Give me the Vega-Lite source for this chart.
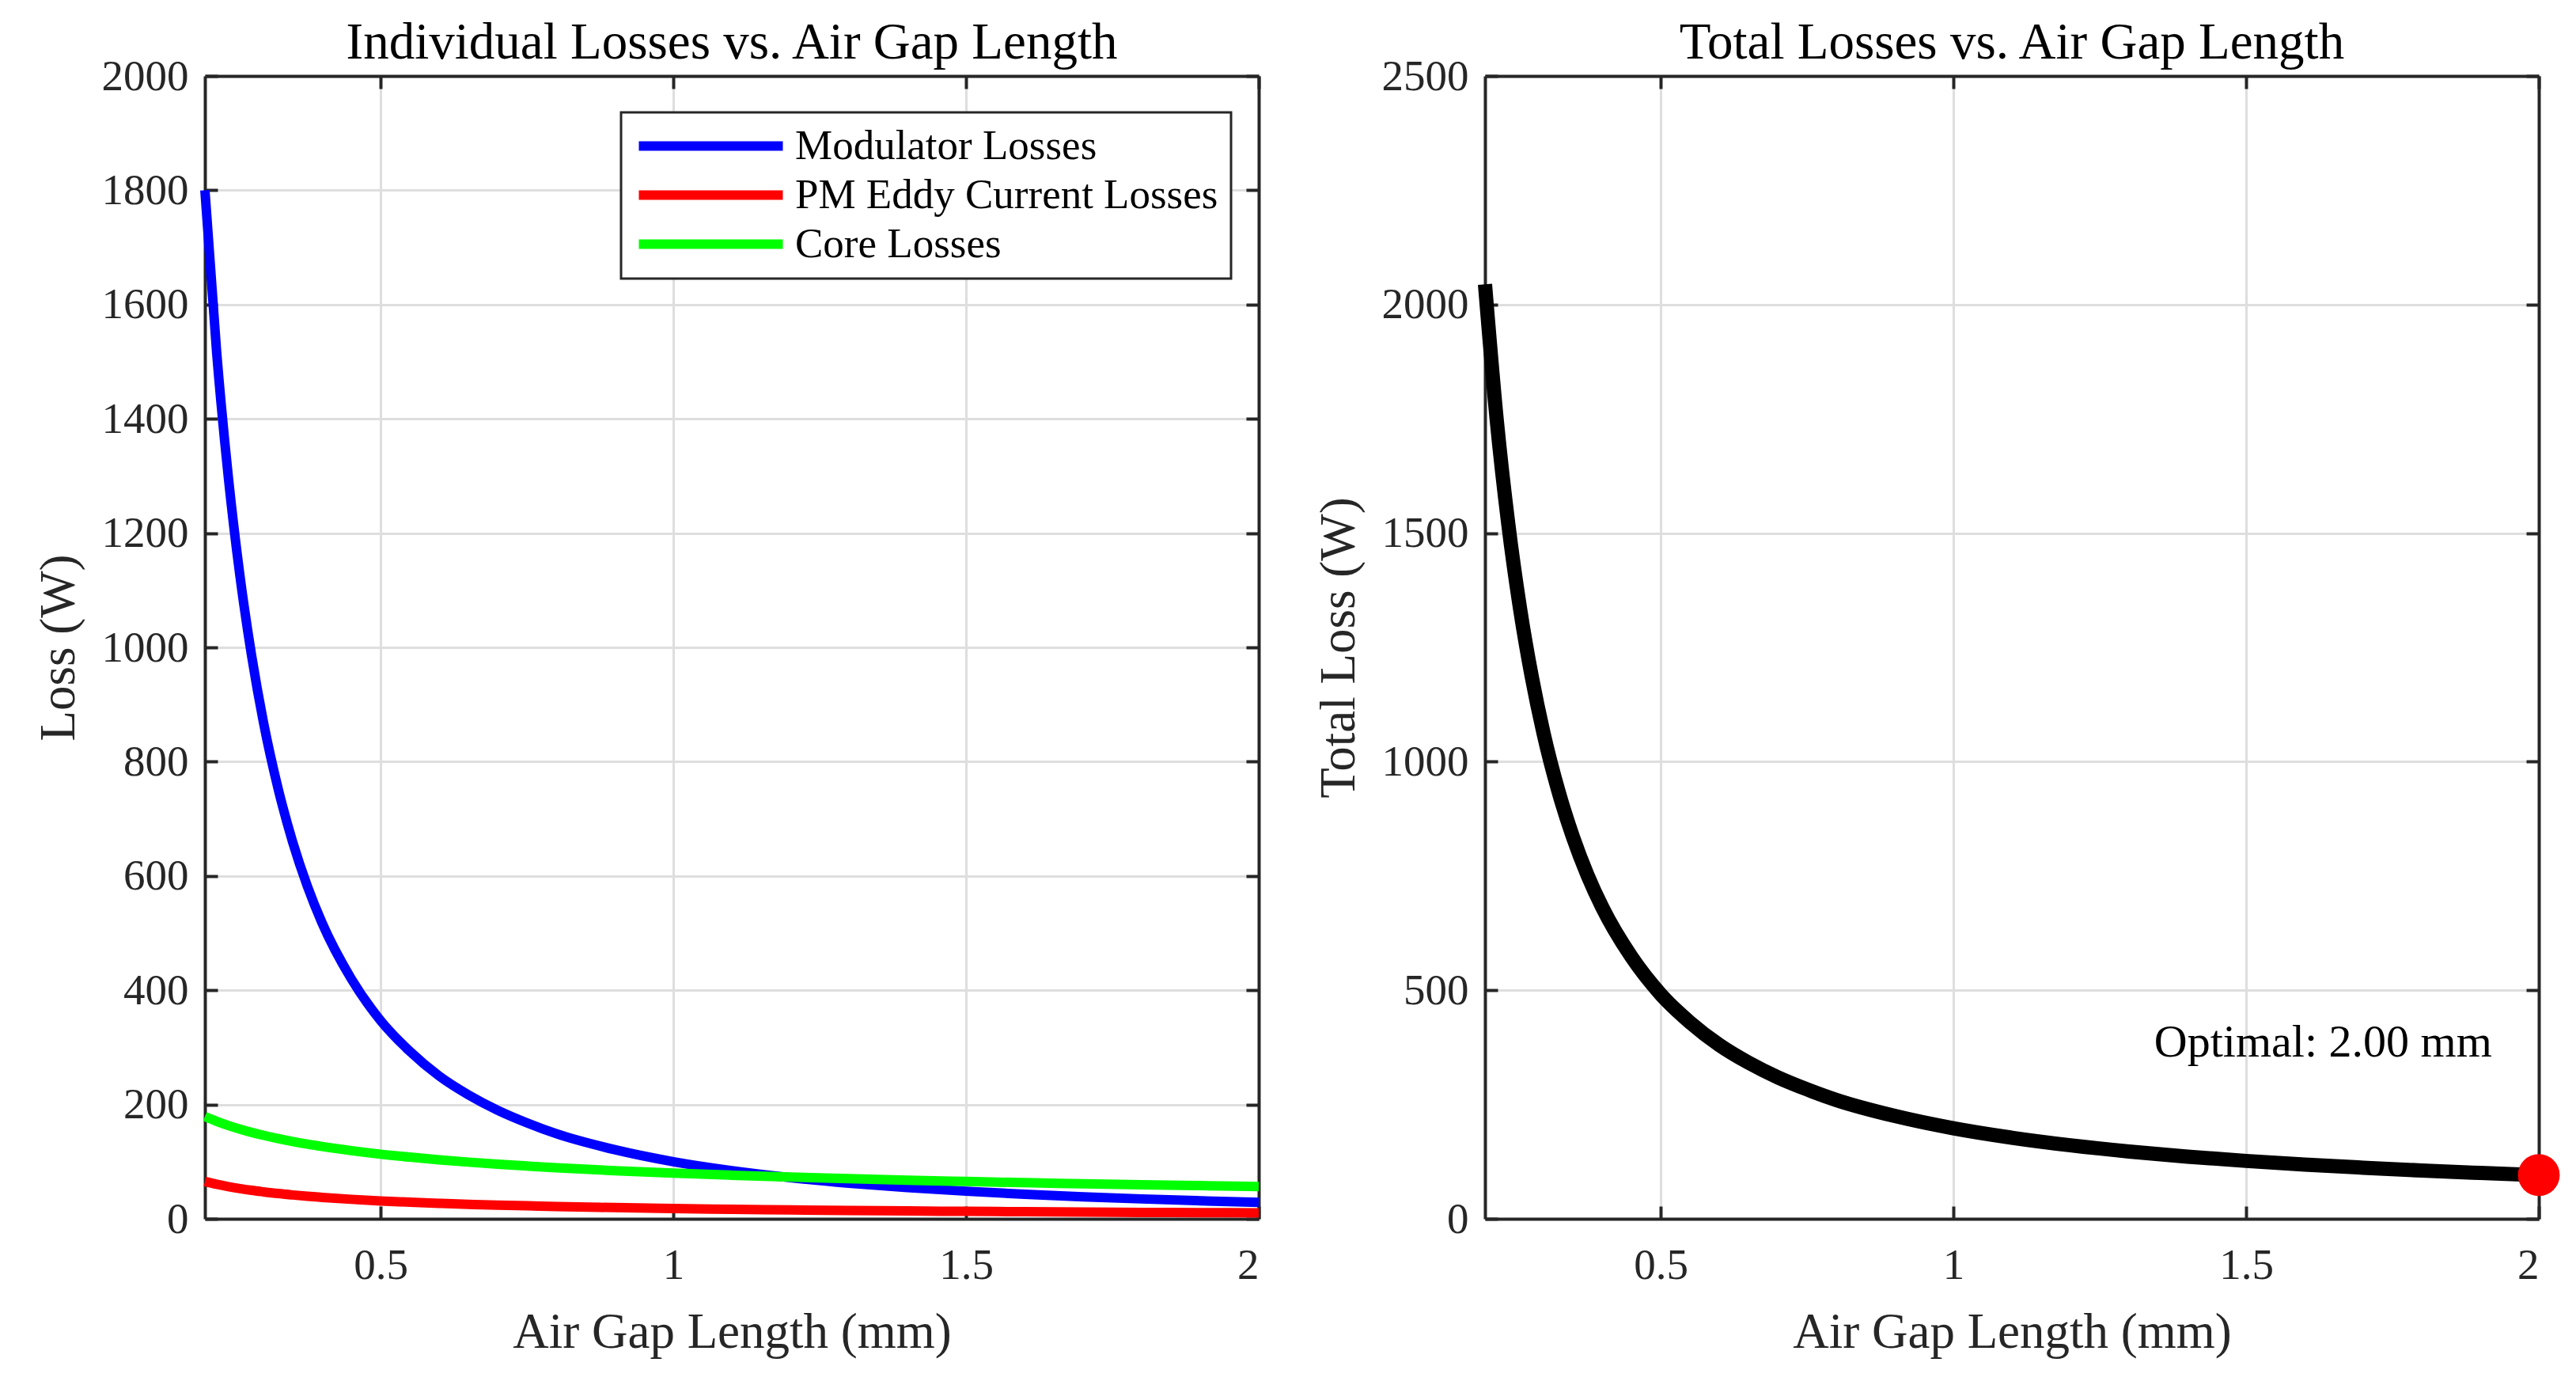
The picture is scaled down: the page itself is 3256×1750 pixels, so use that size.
{
  "$schema": "https://vega.github.io/schema/vega-lite/v6.json",
  "background": "white",
  "padding": {"left": 43, "top": 22, "right": 20, "bottom": 10},
  "spacing": 46,
  "datasets": {
    "losses": [
      {"gap": 0.2, "Modulator Losses": 1800, "PM Eddy Current Losses": 65.2, "Core Losses": 178.9, "Total Losses": 2044.1},
      {"gap": 0.22, "Modulator Losses": 1517, "PM Eddy Current Losses": 60.4, "Core Losses": 170.6, "Total Losses": 1748.0},
      {"gap": 0.24, "Modulator Losses": 1298, "PM Eddy Current Losses": 56.4, "Core Losses": 163.3, "Total Losses": 1517.7},
      {"gap": 0.26, "Modulator Losses": 1124, "PM Eddy Current Losses": 52.9, "Core Losses": 156.9, "Total Losses": 1333.8},
      {"gap": 0.28, "Modulator Losses": 984, "PM Eddy Current Losses": 49.8, "Core Losses": 151.2, "Total Losses": 1185.0},
      {"gap": 0.3, "Modulator Losses": 869, "PM Eddy Current Losses": 47.2, "Core Losses": 146.1, "Total Losses": 1062.3},
      {"gap": 0.325, "Modulator Losses": 753, "PM Eddy Current Losses": 44.2, "Core Losses": 140.3, "Total Losses": 937.5},
      {"gap": 0.35, "Modulator Losses": 659, "PM Eddy Current Losses": 41.7, "Core Losses": 135.2, "Total Losses": 835.9},
      {"gap": 0.375, "Modulator Losses": 582, "PM Eddy Current Losses": 39.4, "Core Losses": 130.6, "Total Losses": 752.0},
      {"gap": 0.4, "Modulator Losses": 518, "PM Eddy Current Losses": 37.5, "Core Losses": 126.5, "Total Losses": 682.0},
      {"gap": 0.45, "Modulator Losses": 420, "PM Eddy Current Losses": 34.1, "Core Losses": 119.3, "Total Losses": 573.4},
      {"gap": 0.5, "Modulator Losses": 347, "PM Eddy Current Losses": 31.3, "Core Losses": 113.1, "Total Losses": 491.4},
      {"gap": 0.55, "Modulator Losses": 293, "PM Eddy Current Losses": 29.0, "Core Losses": 107.9, "Total Losses": 429.9},
      {"gap": 0.6, "Modulator Losses": 250, "PM Eddy Current Losses": 27.1, "Core Losses": 103.3, "Total Losses": 380.4},
      {"gap": 0.65, "Modulator Losses": 217, "PM Eddy Current Losses": 25.4, "Core Losses": 99.2, "Total Losses": 341.6},
      {"gap": 0.7, "Modulator Losses": 190, "PM Eddy Current Losses": 23.9, "Core Losses": 95.6, "Total Losses": 309.5},
      {"gap": 0.75, "Modulator Losses": 168, "PM Eddy Current Losses": 22.7, "Core Losses": 92.4, "Total Losses": 283.1},
      {"gap": 0.8, "Modulator Losses": 149, "PM Eddy Current Losses": 21.5, "Core Losses": 89.4, "Total Losses": 259.9},
      {"gap": 0.9, "Modulator Losses": 121, "PM Eddy Current Losses": 19.6, "Core Losses": 84.3, "Total Losses": 224.9},
      {"gap": 1.0, "Modulator Losses": 100, "PM Eddy Current Losses": 18.0, "Core Losses": 80.0, "Total Losses": 198.0},
      {"gap": 1.1, "Modulator Losses": 84.3, "PM Eddy Current Losses": 16.7, "Core Losses": 76.3, "Total Losses": 177.3},
      {"gap": 1.2, "Modulator Losses": 72.1, "PM Eddy Current Losses": 15.6, "Core Losses": 73.0, "Total Losses": 160.7},
      {"gap": 1.3, "Modulator Losses": 62.4, "PM Eddy Current Losses": 14.6, "Core Losses": 70.2, "Total Losses": 147.2},
      {"gap": 1.4, "Modulator Losses": 54.6, "PM Eddy Current Losses": 13.8, "Core Losses": 67.6, "Total Losses": 136.0},
      {"gap": 1.5, "Modulator Losses": 48.3, "PM Eddy Current Losses": 13.0, "Core Losses": 65.3, "Total Losses": 126.6},
      {"gap": 1.6, "Modulator Losses": 43.0, "PM Eddy Current Losses": 12.4, "Core Losses": 63.2, "Total Losses": 118.6},
      {"gap": 1.7, "Modulator Losses": 38.6, "PM Eddy Current Losses": 11.8, "Core Losses": 61.4, "Total Losses": 111.8},
      {"gap": 1.8, "Modulator Losses": 34.8, "PM Eddy Current Losses": 11.2, "Core Losses": 59.6, "Total Losses": 105.6},
      {"gap": 1.9, "Modulator Losses": 31.6, "PM Eddy Current Losses": 10.8, "Core Losses": 58.0, "Total Losses": 100.4},
      {"gap": 2.0, "Modulator Losses": 28.8, "PM Eddy Current Losses": 10.3, "Core Losses": 56.6, "Total Losses": 95.7}
    ],
    "note": [
      {"tx": 1.92, "ty": 385, "label": "Optimal: 2.00 mm"}
    ]
  },
  "hconcat": [
    {
      "width": 1332,
      "height": 1444,
      "title": "Individual Losses vs. Air Gap Length",
      "data": {"name": "losses"},
      "transform": [
        {"fold": ["Modulator Losses", "PM Eddy Current Losses", "Core Losses"], "as": ["series", "loss"]}
      ],
      "layer": [
        {
          "mark": {"type": "line", "strokeWidth": 12, "interpolate": "monotone"},
          "encoding": {
            "x": {
              "field": "gap", "type": "quantitative",
              "scale": {"domain": [0.2, 2], "nice": false, "zero": false},
              "axis": {"title": "Air Gap Length (mm)", "values": [0.5, 1, 1.5, 2], "format": "~g"}
            },
            "y": {
              "field": "loss", "type": "quantitative",
              "scale": {"domain": [0, 2000], "nice": false},
              "axis": {"title": "Loss (W)", "values": [0, 200, 400, 600, 800, 1000, 1200, 1400, 1600, 1800, 2000], "format": "d"}
            },
            "color": {
              "field": "series", "type": "nominal",
              "scale": {"domain": ["Modulator Losses", "PM Eddy Current Losses", "Core Losses"], "range": ["#0000ff", "#ff0000", "#00ff00"]},
              "legend": {
                "title": null,
                "orient": "none",
                "legendX": 526,
                "legendY": 46,
                "strokeColor": "#262626",
                "fillColor": "white",
                "padding": 16,
                "symbolType": "M-1,0H8.1",
                "symbolSize": 1600,
                "symbolStrokeWidth": 12,
                "labelFont": "Liberation Serif",
                "labelFontSize": 53,
                "labelColor": "black",
                "labelOffset": 151,
                "labelLimit": 800,
                "rowPadding": 8
              }
            }
          }
        },
        {
          "mark": {"type": "point", "opacity": 0},
          "encoding": {
            "x": {
              "field": "gap", "type": "quantitative",
              "scale": {"domain": [0.2, 2], "nice": false, "zero": false},
              "axis": {"orient": "top", "labels": false, "title": null, "grid": false, "values": [0.5, 1, 1.5, 2]}
            },
            "y": {
              "field": "loss", "type": "quantitative",
              "scale": {"domain": [0, 2000], "nice": false},
              "axis": {"orient": "right", "labels": false, "title": null, "grid": false, "values": [0, 200, 400, 600, 800, 1000, 1200, 1400, 1600, 1800, 2000]}
            }
          }
        }
      ],
      "resolve": {"axis": {"x": "independent", "y": "independent"}}
    },
    {
      "width": 1332,
      "height": 1444,
      "title": "Total Losses vs. Air Gap Length",
      "layer": [
        {
          "data": {"name": "losses"},
          "mark": {"type": "line", "strokeWidth": 18, "color": "black", "interpolate": "monotone"},
          "encoding": {
            "x": {
              "field": "gap", "type": "quantitative",
              "scale": {"domain": [0.2, 2], "nice": false, "zero": false},
              "axis": {"title": "Air Gap Length (mm)", "values": [0.5, 1, 1.5, 2], "format": "~g"}
            },
            "y": {
              "field": "Total Losses", "type": "quantitative",
              "scale": {"domain": [0, 2500], "nice": false},
              "axis": {"title": "Total Loss (W)", "values": [0, 500, 1000, 1500, 2000, 2500], "format": "d"}
            }
          }
        },
        {
          "data": {"name": "losses"},
          "transform": [{"filter": "datum.gap == 2"}],
          "mark": {"type": "circle", "size": 2800, "color": "#ff0000", "opacity": 1},
          "encoding": {
            "x": {
              "field": "gap", "type": "quantitative",
              "scale": {"domain": [0.2, 2], "nice": false, "zero": false},
              "axis": {"orient": "top", "labels": false, "title": null, "grid": false, "values": [0.5, 1, 1.5, 2]}
            },
            "y": {
              "field": "Total Losses", "type": "quantitative",
              "scale": {"domain": [0, 2500], "nice": false},
              "axis": {"orient": "right", "labels": false, "title": null, "grid": false, "values": [0, 500, 1000, 1500, 2000, 2500]}
            }
          }
        },
        {
          "data": {"name": "note"},
          "mark": {"type": "text", "font": "Liberation Serif", "fontSize": 58, "align": "right", "baseline": "middle", "color": "black"},
          "encoding": {
            "x": {"field": "tx", "type": "quantitative", "scale": {"domain": [0.2, 2], "nice": false, "zero": false}, "axis": null},
            "y": {"field": "ty", "type": "quantitative", "scale": {"domain": [0, 2500], "nice": false}, "axis": null},
            "text": {"field": "label"}
          }
        }
      ],
      "resolve": {"axis": {"x": "independent", "y": "independent"}}
    }
  ],
  "config": {
    "font": "Liberation Serif",
    "view": {"stroke": null},
    "legend": {"strokeWidth": 3},
    "axis": {
      "labelFont": "Liberation Serif",
      "labelFontSize": 55,
      "labelColor": "#262626",
      "titleFont": "Liberation Serif",
      "titleFontSize": 63,
      "titleFontWeight": "normal",
      "titleColor": "#262626",
      "domainColor": "#262626",
      "domainWidth": 4,
      "tickColor": "#262626",
      "tickWidth": 4,
      "tickSize": -16,
      "gridColor": "#dedede",
      "gridWidth": 3
    },
    "axisX": {"labelPadding": 48, "titlePadding": 26},
    "axisY": {"labelPadding": 37, "titlePadding": 22},
    "title": {
      "font": "Liberation Serif",
      "fontSize": 65,
      "fontWeight": "normal",
      "color": "black",
      "anchor": "middle",
      "offset": -19
    }
  }
}
